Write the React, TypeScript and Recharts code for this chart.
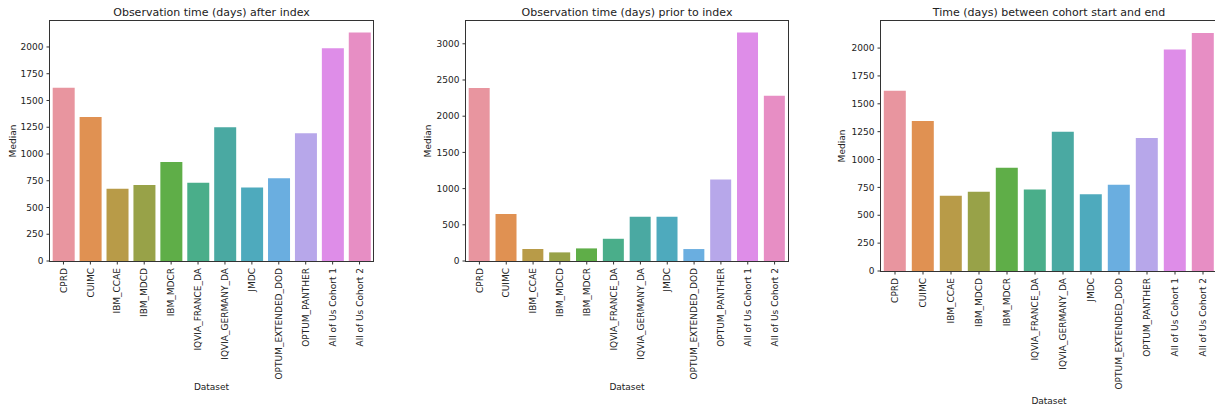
/* Three seaborn-style bar panels: median observation times per dataset */

import { BarChart, Bar, XAxis, YAxis, Cell } from 'recharts';

const DATASETS = [
  'CPRD', 'CUIMC', 'IBM_CCAE', 'IBM_MDCD', 'IBM_MDCR', 'IQVIA_FRANCE_DA',
  'IQVIA_GERMANY_DA', 'JMDC', 'OPTUM_EXTENDED_DOD', 'OPTUM_PANTHER',
  'All of Us Cohort 1', 'All of Us Cohort 2',
];
const AFTER_INDEX = [1618, 1345, 676, 711, 926, 731, 1249, 688, 773, 1193, 1988, 2136];
const PRIOR_INDEX = [2390, 648, 165, 119, 174, 307, 611, 611, 165, 1125, 3157, 2283];
const COHORT_SPAN = [1618, 1345, 676, 711, 926, 731, 1249, 688, 773, 1193, 1988, 2136];

const TICKS_2000 = [0, 250, 500, 750, 1000, 1250, 1500, 1750, 2000];
const TICKS_3000 = [0, 500, 1000, 1500, 2000, 2500, 3000];

const COLORS = [
  '#e8959f', '#e09152', '#b89b48', '#98a248', '#5fae48', '#4aae8a',
  '#4aa9a2', '#4eaabd', '#6aaee0', '#b7a7ea', '#de8de8', '#e78ec4',
];

const FONT = '"DejaVu Sans", sans-serif';
const INK = '#222';
const SPINE = '#333';

function RotatedTick({ x, y, payload }: any) {
  return (
    <text
      x={x}
      y={y}
      transform={`rotate(-90, ${x}, ${y})`}
      textAnchor="end"
      dy="0.35em"
      fill={INK}
      fontSize={9}
      fontFamily="DejaVu Sans"
    >
      {payload.value}
    </text>
  );
}

type PanelProps = {
  left: number;
  width: number;
  yWidth: number;
  right: number;
  top: number;
  xHeight: number;
  title: string;
  values: number[];
  ticks: number[];
  medianX: number;
  datasetY: number;
};

function Panel(p: PanelProps) {
  const data = DATASETS.map((name, i) => ({ name, value: p.values[i] }));
  const plotL = p.left + p.yWidth;
  const plotR = p.left + p.width - p.right;
  const plotB = 407 - p.xHeight;
  const cx = (plotL + plotR) / 2;
  const cy = (p.top + plotB) / 2;
  const txt = { position: 'absolute' as const, fontFamily: FONT, color: INK, whiteSpace: 'nowrap' as const };

  return (
    <>
      <div style={{ position: 'absolute', left: p.left, top: 0 }}>
        <BarChart
          width={p.width}
          height={407}
          data={data}
          margin={{ top: p.top, right: p.right, bottom: 0, left: 0 }}
          barCategoryGap="10%"
        >
          <XAxis
            dataKey="name"
            interval={0}
            height={p.xHeight}
            tick={<RotatedTick />}
            tickSize={3.5}
            tickMargin={3.5}
            axisLine={false}
            tickLine={{ stroke: SPINE }}
          />
          <YAxis
            width={p.yWidth}
            type="number"
            domain={[0, (m: number) => m * 1.05]}
            ticks={p.ticks}
            interval={0}
            tickSize={3.5}
            tickMargin={3}
            tick={{ fill: INK, fontSize: 9, fontFamily: 'DejaVu Sans' }}
            axisLine={false}
            tickLine={{ stroke: SPINE }}
          />
          <Bar dataKey="value" isAnimationActive={false}>
            {data.map((_, i) => (
              <Cell key={i} fill={COLORS[i]} />
            ))}
          </Bar>
        </BarChart>
      </div>
      {/* matplotlib-style frame: all four spines */}
      <div
        style={{
          position: 'absolute',
          left: plotL - 1,
          top: p.top - 1,
          width: plotR - plotL + 2,
          height: plotB - p.top + 2,
          border: `1px solid ${SPINE}`,
          boxSizing: 'border-box',
          pointerEvents: 'none',
        }}
      />
      <div style={{ ...txt, left: cx, top: 12, fontSize: 11, transform: 'translate(-50%, -50%)' }}>{p.title}</div>
      <div style={{ ...txt, left: p.medianX, top: cy, fontSize: 9, transform: 'translate(-50%, -50%) rotate(-90deg)' }}>Median</div>
      <div style={{ ...txt, left: cx, top: p.datasetY, fontSize: 9, transform: 'translate(-50%, -50%)' }}>Dataset</div>
    </>
  );
}

export default function App() {
  return (
    <div style={{ position: 'absolute', left: 0, top: 0, width: 1215, height: 407, overflow: 'hidden', background: '#fff' }}>
      <Panel
        left={0} width={400} yWidth={50} right={27} top={21} xHeight={146}
        title="Observation time (days) after index"
        values={AFTER_INDEX} ticks={TICKS_2000} medianX={13} datasetY={387}
      />
      <Panel
        left={400} width={400} yWidth={66} right={12} top={21} xHeight={146}
        title="Observation time (days) prior to index"
        values={PRIOR_INDEX} ticks={TICKS_3000} medianX={428} datasetY={387}
      />
      <Panel
        left={800} width={417} yWidth={81} right={0} top={21} xHeight={136}
        title="Time (days) between cohort start and end"
        values={COHORT_SPAN} ticks={TICKS_2000} medianX={842} datasetY={401}
      />
    </div>
  );
}
